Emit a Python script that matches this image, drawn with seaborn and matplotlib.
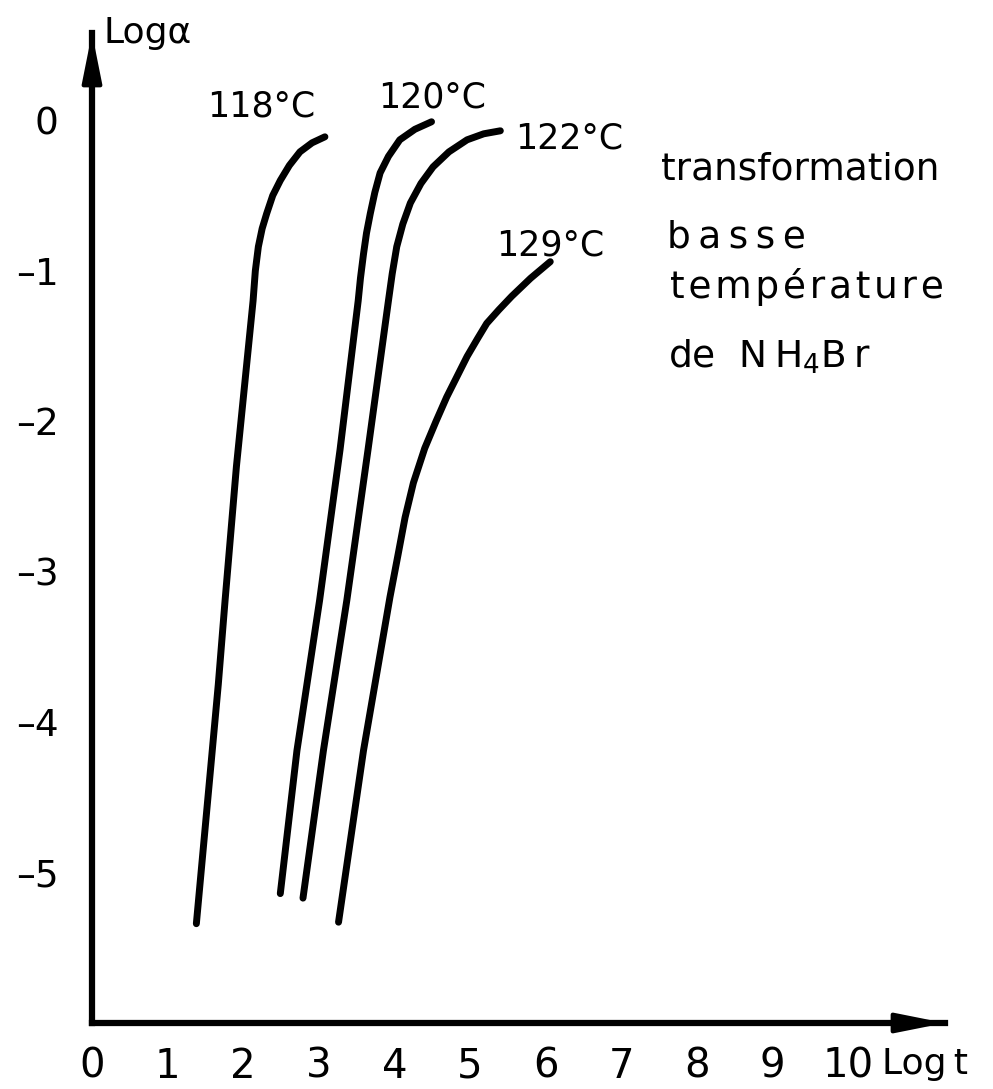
import numpy as np
import pandas as pd
import matplotlib
matplotlib.use("Agg")
import matplotlib.pyplot as plt
import seaborn as sns

# curves: Log t (x) and Log alpha (y), bottom to top
t118_x = [1.38, 1.57, 1.67, 1.76, 1.91, 2.02, 2.13, 2.16, 2.20, 2.25, 2.31, 2.39,
          2.49, 2.61, 2.75, 2.91, 3.08]
t118_y = [-5.34, -4.30, -3.75, -3.19, -2.30, -1.75, -1.20, -1.00, -0.84, -0.72,
          -0.62, -0.50, -0.40, -0.30, -0.21, -0.15, -0.11]

t120_x = [2.49, 2.71, 3.01, 3.28, 3.52, 3.55, 3.59, 3.63, 3.68, 3.74, 3.81, 3.92,
          4.07, 4.27, 4.49]
t120_y = [-5.14, -4.19, -3.19, -2.19, -1.20, -1.05, -0.89, -0.75, -0.62, -0.48,
          -0.35, -0.24, -0.13, -0.06, -0.01]

t122_x = [2.79, 3.06, 3.37, 3.65, 3.92, 3.97, 4.03, 4.11, 4.21, 4.35, 4.51, 4.72,
          4.96, 5.18, 5.40]
t122_y = [-5.17, -4.19, -3.19, -2.19, -1.20, -1.02, -0.84, -0.69, -0.55, -0.42,
          -0.31, -0.21, -0.13, -0.09, -0.07]

t129_x = [3.26, 3.59, 3.94, 4.05, 4.14, 4.25, 4.40, 4.55, 4.69, 4.83, 4.96, 5.10,
          5.22, 5.38, 5.55, 5.80, 6.06]
t129_y = [-5.33, -4.19, -3.17, -2.88, -2.64, -2.41, -2.18, -2.00, -1.84, -1.70,
          -1.57, -1.45, -1.35, -1.26, -1.17, -1.05, -0.94]

curve_names = ["118°C", "120°C", "122°C", "129°C"]
x_ticks = list(range(0, 11))
y_ticks = [0, -1, -2, -3, -4, -5]

frames = []
for name, xs, ys in zip(curve_names,
                        [t118_x, t120_x, t122_x, t129_x],
                        [t118_y, t120_y, t122_y, t129_y]):
    frames.append(pd.DataFrame({"curve": name, "logt": xs, "loga": ys}))
df = pd.concat(frames, ignore_index=True)

sns.set_theme(style="white")
plt.rcParams["font.family"] = ["DejaVu Sans"]
plt.rcParams["mathtext.default"] = "regular"
plt.rcParams["text.color"] = "black"
plt.rcParams["xtick.color"] = "black"
plt.rcParams["ytick.color"] = "black"

fig = plt.figure(figsize=(9.93, 10.89), dpi=100)
ax = fig.add_axes([92 / 993, 66 / 1089, 853 / 993, 990 / 1089])

XMAX, YMIN, YMAX = 11.28, -6.0, 0.58

sns.lineplot(data=df, x="logt", y="loga", units="curve", estimator=None,
             sort=False, color="black", lw=5, ax=ax,
             solid_capstyle="round", solid_joinstyle="round")

ax.set_xlim(0, XMAX)
ax.set_ylim(YMIN, YMAX)
ax.set_xlabel("")
ax.set_ylabel("")

for side in ["top", "right"]:
    ax.spines[side].set_visible(False)
for side in ["left", "bottom"]:
    ax.spines[side].set_linewidth(4.5)
    ax.spines[side].set_color("black")

ax.set_xticks(x_ticks)
ax.set_yticks(y_ticks)
ax.set_xticklabels([str(v) for v in x_ticks])
ax.set_yticklabels(["0" if v == 0 else "\u2013" + str(abs(v)) for v in y_ticks])
ax.tick_params(axis="both", direction="in", length=8, width=2.2, color="black",
               labelcolor="black")
ax.tick_params(axis="x", labelsize=29, pad=17)
ax.tick_params(axis="y", labelsize=27, pad=24)

# arrow heads at the ends of both axes
arrow = dict(arrowstyle="-|>,head_length=1.5,head_width=0.3", lw=3,
             color="black", shrinkA=0, shrinkB=0, mutation_scale=20)
ax.annotate("", xy=(XMAX, YMIN), xytext=(XMAX - 0.5, YMIN),
            arrowprops=arrow, annotation_clip=False)
ax.annotate("", xy=(0, YMAX), xytext=(0, YMAX - 0.3),
            arrowprops=arrow, annotation_clip=False)

ax.text(0.15, 0.58, "Log\u03b1", fontsize=26, ha="left", va="center", clip_on=False)
ax.text(10.45, -6.27, "Log\u2009t", fontsize=26, ha="left", va="center", clip_on=False)

# curve labels
ax.text(2.24, 0.09, "118°C", fontsize=25, ha="center", va="center")
ax.text(4.50, 0.15, "120°C", fontsize=25, ha="center", va="center")
ax.text(6.31, -0.12, "122°C", fontsize=25, ha="center", va="center")
ax.text(6.06, -0.83, "129°C", fontsize=25, ha="center", va="center")

ax.text(7.52, -0.33, "transformation", fontsize=27, ha="left", va="center")
ax.text(7.60, -0.78, "b\u2009a\u2009s\u2009s\u2009e", fontsize=27, ha="left", va="center")
ax.text(7.65, -1.11, "\u200a".join("température"), fontsize=27,
        ha="left", va="center")
ax.text(7.62, -1.57, "de  N\u2009H$_4$B\u2009r", fontsize=27, ha="left", va="center")

fig.savefig("out.png", dpi=100, facecolor="white")
